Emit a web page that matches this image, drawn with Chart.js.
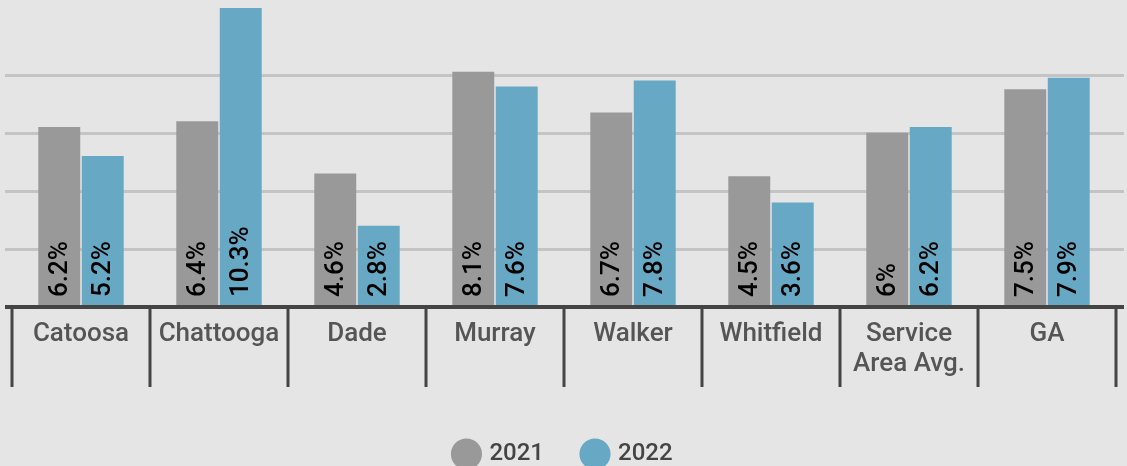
<!DOCTYPE html>
<html>
<head>
<meta charset="utf-8">
<script src="https://cdn.jsdelivr.net/npm/chart.js@4"></script>
<style>
  html, body { margin: 0; padding: 0; background: #e5e5e5; }
  #wrap { width: 1127px; height: 466px; }
</style>
</head>
<body>
<div id="wrap"><canvas id="chart"></canvas></div>
<script>
// categories and values
const counties = ["Catoosa", "Chattooga", "Dade", "Murray", "Walker", "Whitfield", ["Service", "Area Avg."], "GA"];
const values2021 = [6.2, 6.4, 4.6, 8.1, 6.7, 4.5, 6, 7.5];
const values2022 = [5.2, 10.3, 2.8, 7.6, 7.8, 3.6, 6.2, 7.9];
const seriesNames = ["2021", "2022"];

const GRAY = "#999999";
const BLUE = "#67a8c4";

// grid lines, baseline, category separators and value labels
const frameLines = {
    id: "frameLines",
    beforeDatasetsDraw(chart) {
        const ctx = chart.ctx;
        const y = chart.scales.y;
        ctx.save();
        ctx.strokeStyle = "#c4c4c4";
        ctx.lineWidth = 3;
        y.ticks.forEach((t) => {
            if (t.value > 0 && t.value % 2 === 0) {
                const py = Math.round(y.getPixelForValue(t.value)) + 0.5;
                ctx.beginPath();
                ctx.moveTo(5, py);
                ctx.lineTo(1124, py);
                ctx.stroke();
            }
        });
        ctx.restore();
    },
    afterDatasetsDraw(chart) {
        const ctx = chart.ctx;
        const x = chart.scales.x;
        const base = chart.scales.y.getPixelForValue(0);
        ctx.save();
        ctx.fillStyle = "#444444";
        ctx.fillRect(5, base - 2, 1119, 4);

        // separators between the categories, hanging under the axis
        for (let i = 0; i <= counties.length; i++) {
            const px = Math.round(x.getPixelForValue(i - 0.5));
            ctx.fillRect(px - 1.5, base, 3, 80);
        }

        // value labels, written upward from the bottom of each bar
        ctx.font = "500 26px Roboto";
        ctx.fillStyle = "#000000";
        ctx.textAlign = "left";
        ctx.textBaseline = "middle";
        chart.data.datasets.forEach((ds, i) => {
            chart.getDatasetMeta(i).data.forEach((bar, j) => {
                ctx.save();
                ctx.translate(bar.x, base - 10);
                ctx.rotate(-Math.PI / 2);
                ctx.fillText(ds.data[j] + "%", 0, 1);
                ctx.restore();
            });
        });
        ctx.restore();
    }
};

new Chart(document.getElementById("chart"), {
    type: "bar",
    data: {
        labels: counties,
        datasets: [
            { label: seriesNames[0], data: values2021, backgroundColor: GRAY },
            { label: seriesNames[1], data: values2022, backgroundColor: BLUE }
        ]
    },
    options: {
        responsive: true,
        maintainAspectRatio: false,
        animation: false,
        categoryPercentage: 0.63,
        barPercentage: 0.965,
        layout: { padding: { left: 12, right: 11, top: 8, bottom: -10 } },
        scales: {
            x: {
                border: { display: false },
                grid: { display: false, drawTicks: false },
                afterFit: (scale) => { scale.height = 95; },
                ticks: {
                    color: "#555555",
                    padding: 12,
                    maxRotation: 0,
                    autoSkip: false,
                    font: { family: "Roboto", size: 26, weight: "500", lineHeight: 1.16 }
                }
            },
            y: {
                display: false,
                min: 0,
                max: 10.3,
                ticks: { stepSize: 2 }
            }
        },
        plugins: {
            tooltip: { enabled: false },
            legend: {
                position: "bottom",
                labels: {
                    usePointStyle: true,
                    pointStyle: "circle",
                    boxWidth: 22,
                    boxHeight: 22,
                    padding: 40,
                    color: "#444444",
                    font: { family: "Roboto", size: 24, weight: "500" }
                }
            }
        }
    },
    plugins: [frameLines]
});
</script>
</body>
</html>
